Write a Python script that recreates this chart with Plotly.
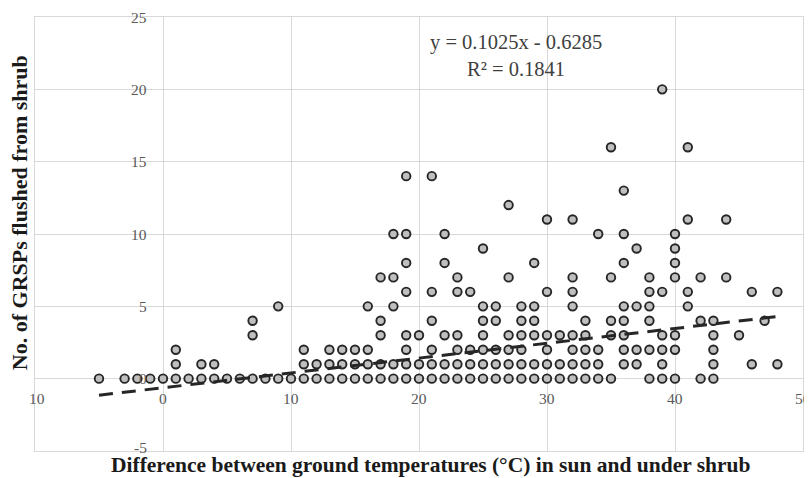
import plotly.graph_objects as go

# Temperature difference (x) of each observation, grouped by number of GRSPs flushed (y)
diff_0 = [-5, -3, -2, -1, 0, 1, 2, 3, 4, 5, 6, 7, 8, 9, 10, 11, 12, 13, 14, 15, 16, 17,
          18, 19, 20, 21, 22, 23, 24, 25, 26, 27, 28, 29, 30, 31, 32, 33, 34, 35,
          38, 39, 40, 42, 43]
diff_1 = [1, 3, 4, 11, 12, 13, 14, 15, 16, 17, 18, 19, 20, 21, 22, 23, 24, 25, 26, 27,
          28, 29, 30, 31, 32, 33, 34, 36, 37, 39, 43, 46, 48]
diff_2 = [1, 11, 13, 14, 15, 16, 19, 21, 23, 24, 25, 26, 27, 28, 30, 32, 33, 34, 36, 37,
          38, 39, 40, 43]
diff_3 = [7, 17, 19, 20, 22, 23, 25, 27, 28, 29, 30, 31, 32, 33, 35, 36, 39, 40, 43, 45]
diff_4 = [7, 17, 21, 25, 26, 28, 29, 33, 35, 36, 38, 42, 43, 47]
diff_5 = [9, 16, 18, 25, 26, 28, 29, 32, 36, 37, 38, 41]
diff_6 = [19, 21, 23, 24, 30, 32, 38, 39, 41, 46, 48]
diff_7 = [17, 18, 23, 27, 32, 35, 38, 40, 42, 44]
diff_8 = [19, 22, 29, 36, 40]
diff_9 = [25, 37, 40]
diff_10 = [18, 19, 22, 34, 36, 40]
diff_11 = [30, 32, 41, 44]
diff_12 = [27]
diff_13 = [36]
diff_14 = [19, 21]
diff_16 = [35, 41]
diff_20 = [39]

flushed = [0, 1, 2, 3, 4, 5, 6, 7, 8, 9, 10, 11, 12, 13, 14, 16, 20]
groups = [diff_0, diff_1, diff_2, diff_3, diff_4, diff_5, diff_6, diff_7, diff_8,
          diff_9, diff_10, diff_11, diff_12, diff_13, diff_14, diff_16, diff_20]

# linear trendline shown on the chart
slope = 0.1025
intercept = -0.6285
r_squared = 0.1841

x_ticks = [-10, 0, 10, 20, 30, 40, 50]
x_tick_text = ["10", "0", "10", "20", "30", "40", "50"]  # minus of -10 is cut off in the original
y_ticks = [-5, 0, 5, 10, 15, 20, 25]
y_tick_text = ["-5", "0", "5", "10", "15", "20", "25"]

xs, ys = [], []
for count, g in zip(flushed, groups):
    xs += g
    ys += [count] * len(g)

trend_x = [min(xs), max(xs)]
trend_y = [slope * v + intercept for v in trend_x]

serif = "Liberation Serif, Times New Roman, serif"
grid = "#d9d9d9"
tick_col = "#595959"

fig = go.Figure()
fig.add_trace(go.Scatter(
    x=xs, y=ys, mode="markers",
    marker=dict(size=8.5, color="#bfbfbf", line=dict(color="#262626", width=1.9)),
    showlegend=False,
))
fig.add_trace(go.Scatter(
    x=trend_x, y=trend_y, mode="lines",
    line=dict(color="#262626", width=3, dash="14px,9px"),
    showlegend=False,
))

annotations = []
for t, s in zip(x_ticks, x_tick_text):
    annotations.append(dict(x=t, y=0, xref="x", yref="y", text=s, showarrow=False,
                            xanchor="center", yanchor="middle", yshift=-20,
                            xshift=2 if t == x_ticks[0] else 0,
                            font=dict(family=serif, size=15.5, color=tick_col)))
for t, s in zip(y_ticks, y_tick_text):
    annotations.append(dict(x=0, y=t, xref="x", yref="y", text=s, showarrow=False,
                            xanchor="right", yanchor="middle", xshift=-15,
                            yshift=4 if t == y_ticks[0] else 0, borderpad=0,
                            font=dict(family=serif, size=15.5, color=tick_col)))

annotations.append(dict(
    x=0.626, y=0.911, xref="paper", yref="paper", showarrow=False,
    xanchor="center", yanchor="middle",
    text=f"y = {slope}x - {abs(intercept)}<br>R² = {r_squared}",
    align="center", font=dict(family=serif, size=20.5, color="#404040"),
))
annotations.append(dict(
    x=0.516, y=-0.0323, xref="paper", yref="paper", showarrow=False,
    text="<b>Difference between ground temperatures (°C) in sun and under shrub</b>",
    xanchor="center", yanchor="middle", borderpad=0,
    font=dict(family=serif, size=21.5, color="#1a1a1a"),
))
annotations.append(dict(
    x=-0.021, y=0.55, xref="paper", yref="paper", showarrow=False,
    text="<b>No. of GRSPs flushed from shrub</b>", textangle=-90,
    xanchor="center", yanchor="middle", borderpad=0,
    font=dict(family=serif, size=22, color="#1a1a1a"),
))

axis_common = dict(showticklabels=False, ticks="", showgrid=True, gridcolor=grid,
                   gridwidth=1, zeroline=True, zerolinecolor=grid, zerolinewidth=1,
                   showline=True, mirror=True, linecolor=grid, linewidth=1)

# the page body adds an 8px margin, so the figure is 8px smaller each way
fig.update_layout(
    width=804, height=470,
    margin=dict(l=27, r=9, t=9, b=27),
    paper_bgcolor="white", plot_bgcolor="white",
    xaxis=dict(range=[-10, 50], tickvals=x_ticks, **axis_common),
    yaxis=dict(range=[-5, 25], tickvals=y_ticks, **axis_common),
    annotations=annotations,
)

fig.write_html("out.html")
